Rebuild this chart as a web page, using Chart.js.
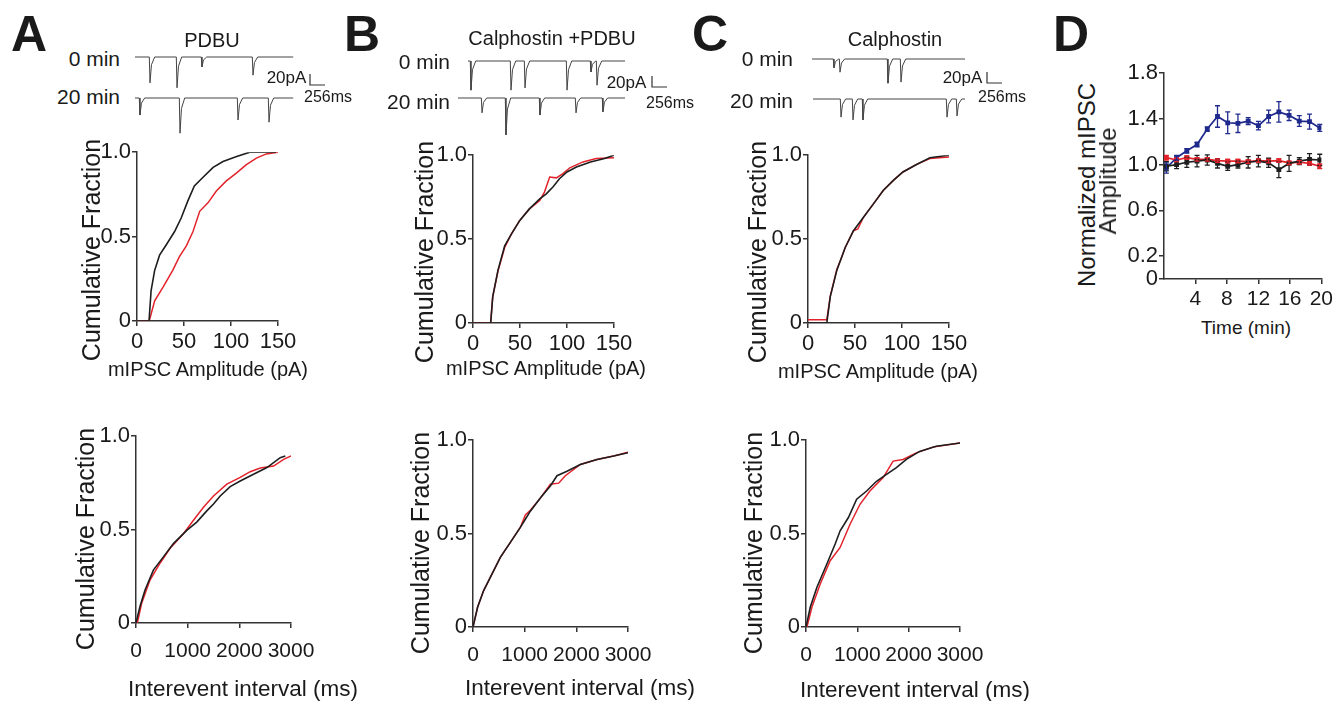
<!DOCTYPE html>
<html>
<head>
<meta charset="utf-8">
<script src="https://cdn.jsdelivr.net/npm/chart.js@4.4.1/dist/chart.umd.min.js"></script>
<style>
    body { margin: 0; background: #fff; }
    #fig { position: relative; width: 1338px; height: 701px; overflow: hidden; font-family: "Liberation Sans", Arial, sans-serif; color: #1a1a1a; }
    #fig canvas { position: absolute; }
    .lbl { position: absolute; white-space: nowrap; line-height: 1; }
</style>
</head>
<body>
<div id="fig"></div>
<script>
// ---- traces (spike times in ms, amplitudes in pA) ----
const spikeTimesA0 = [256, 717, 1143, 2014];
const spikeAmpsA0 = [47, 56, 18, 33];
const spikeTimesA20 = [85, 768, 1758, 2287];
const spikeAmpsA20 = [31, 64, 40, 44];
const spikeTimesB0 = [51, 734, 973, 1690, 2099, 2202];
const spikeAmpsB0 = [53, 53, 49, 53, 20, 44];
const spikeTimesB20 = [410, 819, 1399, 2014, 2474];
const spikeAmpsB20 = [27, 67, 31, 27, 25];
const spikeTimesC0 = [375, 478, 1297, 1519];
const spikeAmpsC0 = [16, 24, 44, 42];
const spikeTimesC20 = [478, 683, 853, 2287, 2458];
const spikeAmpsC20 = [33, 38, 38, 33, 31];
const traceDur = { A0: 2700, A20: 2700, B0: 2680, B20: 2850, C0: 2611, C20: 2594 };

// ---- cumulative amplitude (pA -> fraction) ----
const ampA_black_x = [0, 12.8, 15, 18.8, 24, 31, 40, 47, 54, 61, 70, 81, 91.5, 106, 120, 148];
const ampA_black_y = [0, 0, 0.18, 0.30, 0.39, 0.45, 0.53, 0.61, 0.71, 0.80, 0.85, 0.91, 0.945, 0.975, 1.0, 1.0];
const ampA_red_x = [0, 13, 18.8, 27.7, 38, 45, 52.5, 59.6, 66.7, 75.5, 84.4, 95, 105.7, 116, 127, 137.6, 150];
const ampA_red_y = [0, 0, 0.12, 0.2, 0.3, 0.38, 0.445, 0.53, 0.65, 0.70, 0.77, 0.83, 0.876, 0.925, 0.965, 0.99, 1.0];
const ampB_black_x = [0, 18.8, 21, 26.6, 33.7, 40.8, 49.6, 60, 71, 78, 85, 92, 100, 110, 125, 140, 150];
const ampB_black_y = [0, 0, 0.157, 0.315, 0.46, 0.53, 0.61, 0.68, 0.74, 0.77, 0.81, 0.86, 0.90, 0.93, 0.96, 0.98, 1.0];
const ampB_red_x = [0, 18.8, 21, 26.6, 33.7, 40.8, 49.6, 60, 71, 76, 81.6, 88.7, 95.7, 103, 117, 131, 150];
const ampB_red_y = [0, 0, 0.157, 0.31, 0.45, 0.53, 0.61, 0.68, 0.73, 0.78, 0.87, 0.865, 0.89, 0.925, 0.96, 0.98, 0.985];
const ampC_black_x = [0, 20, 23.7, 30.7, 39.6, 48.4, 59, 69.6, 80, 90.8, 101, 115.5, 129.7, 150];
const ampC_black_y = [0, 0, 0.157, 0.315, 0.45, 0.55, 0.63, 0.71, 0.79, 0.85, 0.90, 0.945, 0.985, 1.0];
const ampC_red_x = [0, 20, 23.7, 30.7, 35, 39.6, 48.4, 53, 59, 69.6, 80, 90.8, 101, 115.5, 129.7, 150];
const ampC_red_y = [0.02, 0.02, 0.16, 0.32, 0.38, 0.45, 0.55, 0.56, 0.63, 0.71, 0.79, 0.85, 0.9, 0.945, 0.98, 0.99];

// ---- cumulative interevent interval (ms -> fraction) ----
const intA_black_x = [0, 77, 175, 336, 530, 724, 982, 1176, 1370, 1500, 1630, 1823, 2017, 2275, 2534, 2792, 2890];
const intA_black_y = [0, 0.088, 0.177, 0.283, 0.354, 0.425, 0.496, 0.54, 0.60, 0.637, 0.68, 0.73, 0.76, 0.796, 0.832, 0.885, 0.894];
const intA_red_x = [26, 110, 271, 465, 660, 918, 1112, 1306, 1500, 1758, 2017, 2211, 2405, 2663, 2857, 3000];
const intA_red_y = [0, 0.106, 0.23, 0.32, 0.40, 0.478, 0.55, 0.62, 0.68, 0.743, 0.78, 0.81, 0.83, 0.84, 0.876, 0.894];
const intB_black_x = [0, 90, 206, 335, 529, 723, 916, 1013, 1110, 1303, 1497, 1626, 1819, 2077, 2400, 2723, 3000];
const intB_black_y = [0, 0.107, 0.195, 0.266, 0.373, 0.453, 0.533, 0.577, 0.62, 0.69, 0.755, 0.81, 0.834, 0.87, 0.897, 0.915, 0.933];
const intB_red_x = [0, 90, 206, 335, 529, 723, 916, 1013, 1110, 1303, 1497, 1658, 1787, 2077, 2400, 2723, 3000];
const intB_red_y = [0, 0.107, 0.195, 0.266, 0.373, 0.453, 0.533, 0.6, 0.625, 0.69, 0.764, 0.77, 0.81, 0.87, 0.897, 0.915, 0.935];
const intC_black_x = [0, 84, 213, 406, 568, 665, 826, 987, 1181, 1374, 1568, 1761, 1955, 2213, 2535, 3000];
const intC_black_y = [0, 0.107, 0.213, 0.337, 0.444, 0.515, 0.586, 0.684, 0.728, 0.78, 0.817, 0.853, 0.897, 0.94, 0.968, 0.985];
const intC_red_x = [19, 116, 277, 471, 665, 858, 1052, 1245, 1503, 1697, 1890, 2148, 2471, 3000];
const intC_red_y = [0, 0.107, 0.23, 0.355, 0.426, 0.55, 0.657, 0.728, 0.80, 0.888, 0.897, 0.932, 0.963, 0.985];

// ---- panel D: normalized amplitude over time ----
const timesD = [0.3, 1.6, 2.9, 4.2, 5.5, 6.8, 8.1, 9.4, 10.7, 12.0, 13.3, 14.6, 15.9, 17.2, 18.5, 19.8];
const pdbu = [0.97, 1.06, 1.12, 1.175, 1.31, 1.42, 1.365, 1.36, 1.38, 1.34, 1.42, 1.46, 1.43, 1.38, 1.375, 1.32];
const pdbuErr = [0.045, 0.02, 0.02, 0.02, 0.02, 0.094, 0.095, 0.08, 0.03, 0.037, 0.055, 0.09, 0.045, 0.047, 0.066, 0.03];
const calphostin = [1.06, 1.04, 1.06, 1.045, 1.045, 1.035, 1.03, 1.03, 1.025, 1.035, 1.03, 1.035, 1.015, 1.02, 1.01, 0.985];
const calphostinErr = [0.02, 0.015, 0.015, 0.015, 0.015, 0.015, 0.015, 0.015, 0.015, 0.015, 0.015, 0.015, 0.015, 0.015, 0.015, 0.02];
const calphPdbu = [0.985, 1.0, 1.02, 1.03, 1.04, 1.01, 0.985, 1.0, 1.02, 1.03, 1.015, 0.955, 1.01, 1.03, 1.045, 1.04];
const calphPdbuErr = [0.04, 0.035, 0.045, 0.05, 0.045, 0.04, 0.035, 0.03, 0.05, 0.05, 0.04, 0.07, 0.07, 0.03, 0.05, 0.05];
const yTicksD = [0, 0.2, 0.6, 1.0, 1.4, 1.8];
const xTicksD = [4, 8, 12, 16, 20];

const BLACK = "#1e1e1e";
const RED = "#e3232b";
const BLUE = "#1f2a8c";
const AXIS = "#333";

Chart.defaults.font.family = '"Liberation Sans", Arial, sans-serif';
Chart.defaults.color = "#1a1a1a";

const fig = document.getElementById("fig");

function addCanvas(box) {
    const c = document.createElement("canvas");
    c.width = box[2];
    c.height = box[3];
    c.style.left = box[0] + "px";
    c.style.top = box[1] + "px";
    fig.appendChild(c);
    return c;
}

function pts(xs, ys) {
    return xs.map((x, i) => ({ x: x, y: ys[i] }));
}

// ---- traces ----
const PX_PER_MS = 15 / 256;
const PX_PER_PA = 11 / 20;

function buildTrace(times, amps, dur, dt, dy) {
    const p = [{ x: dt, y: dy }];
    times.forEach((t, i) => {
        p.push({ x: dt + t - 12, y: dy });
        p.push({ x: dt + t, y: dy - amps[i] });
        p.push({ x: dt + t + 25, y: dy - amps[i] * 0.3 });
        p.push({ x: dt + t + 80, y: dy });
    });
    p.push({ x: dt + dur, y: dy });
    return p;
}

function traceChart(cfg, t0, a0, d0, t20, a20, d20) {
    const [L, T, W, H] = cfg.box;
    const dt20 = (cfg.x20 - cfg.x0) / PX_PER_MS;
    const dy20 = -(cfg.b20 - cfg.b0) / PX_PER_PA;
    const barX = (cfg.bar[0] - cfg.x0) / PX_PER_MS;
    const barY = (cfg.b0 - cfg.bar[1]) / PX_PER_PA;
    new Chart(addCanvas(cfg.box), {
        type: "line",
        data: {
            datasets: [
                { data: buildTrace(t0, a0, d0, 0, 0) },
                { data: buildTrace(t20, a20, d20, dt20, dy20) },
                { data: [{ x: barX, y: barY }, { x: barX, y: barY - 20 }, { x: barX + 256, y: barY - 20 }], borderColor: "#333", borderWidth: 1.2 },
            ],
        },
        options: {
            responsive: false, animation: false, devicePixelRatio: 1,
            layout: { padding: 0 },
            elements: { point: { radius: 0 }, line: { tension: 0, borderColor: "#444", borderWidth: 1 } },
            plugins: { legend: { display: false }, tooltip: { enabled: false } },
            scales: {
                x: { type: "linear", display: false, min: (L - cfg.x0) / PX_PER_MS, max: (L + W - cfg.x0) / PX_PER_MS },
                y: { type: "linear", display: false, min: (cfg.b0 - T - H) / PX_PER_PA, max: (cfg.b0 - T) / PX_PER_PA },
            },
        },
    });
}

traceChart({ box: [125, 45, 210, 100], x0: 135, b0: 57, x20: 135, b20: 98, bar: [310, 74] },
    spikeTimesA0, spikeAmpsA0, traceDur.A0, spikeTimesA20, spikeAmpsA20, traceDur.A20);
traceChart({ box: [450, 45, 225, 100], x0: 468, b0: 61, x20: 458, b20: 98, bar: [652, 76] },
    spikeTimesB0, spikeAmpsB0, traceDur.B0, spikeTimesB20, spikeAmpsB20, traceDur.B20);
traceChart({ box: [805, 45, 205, 100], x0: 812, b0: 59, x20: 813, b20: 99, bar: [987, 72] },
    spikeTimesC0, spikeAmpsC0, traceDur.C0, spikeTimesC20, spikeAmpsC20, traceDur.C20);

// ---- cumulative plots ----
function axisStyle(fontSize) {
    return {
        grid: { drawOnChartArea: false, tickLength: 5, color: AXIS, lineWidth: 1.5 },
        border: { color: AXIS, width: 1.5 },
        ticks: { autoSkip: false, maxRotation: 0, padding: 1, font: { size: fontSize }, color: "#1a1a1a" },
    };
}

function cumulative(box, area, xMax, xStep, bx, by, rx, ry, xFont, xPad) {
    const padTop = area[1] - box[1];
    const padRight = box[0] + box[2] - area[2];
    const yW = area[0] - box[0];
    const xH = box[1] + box[3] - area[3];
    const xs = axisStyle(xFont);
    const ys = axisStyle(22);
    new Chart(addCanvas(box), {
        type: "line",
        data: {
            datasets: [
                { data: pts(bx, by), borderColor: BLACK, borderWidth: 1.6 },
                { data: pts(rx, ry), borderColor: RED, borderWidth: 1.5 },
            ],
        },
        options: {
            responsive: false, animation: false, devicePixelRatio: 1,
            layout: { padding: { top: padTop, right: padRight, left: 0, bottom: 0 } },
            elements: { point: { radius: 0 }, line: { tension: 0 } },
            plugins: { legend: { display: false }, tooltip: { enabled: false } },
            scales: {
                x: Object.assign(xs, {
                    type: "linear", min: 0, max: xMax,
                    afterFit: (s) => { s.height = xH; },
                    ticks: Object.assign(xs.ticks, { stepSize: xStep, padding: xPad, callback: (v) => String(v) }),
                }),
                y: Object.assign(ys, {
                    type: "linear", min: 0, max: 1,
                    afterFit: (s) => { s.width = yW; },
                    ticks: Object.assign(ys.ticks, {
                        stepSize: 0.5,
                        callback: (v) => (v === 0 ? "0" : v.toFixed(1)),
                    }),
                }),
            },
        },
    });
}

cumulative([60, 138, 255, 245], [137, 151, 278, 321], 150, 50, ampA_black_x, ampA_black_y, ampA_red_x, ampA_red_y, 22, 3);
cumulative([396, 141, 255, 245], [473, 154, 614, 323], 150, 50, ampB_black_x, ampB_black_y, ampB_red_x, ampB_red_y, 22, 3);
cumulative([731, 141, 255, 245], [808, 154, 949, 323], 150, 50, ampC_black_x, ampC_black_y, ampC_red_x, ampC_red_y, 22, 3);
cumulative([60, 422, 270, 265], [136, 435, 291, 623], 3000, 1000, intA_black_x, intA_black_y, intA_red_x, intA_red_y, 21, 11);
cumulative([397, 426, 270, 265], [473, 439, 628, 627], 3000, 1000, intB_black_x, intB_black_y, intB_red_x, intB_red_y, 21, 11);
cumulative([730, 426, 270, 265], [806, 439, 960, 627], 3000, 1000, intC_black_x, intC_black_y, intC_red_x, intC_red_y, 21, 11);

// ---- panel D ----
const errorBars = {
    id: "errorBars",
    afterDatasetsDraw(chart) {
        const ctx = chart.ctx;
        const y = chart.scales.y;
        chart.data.datasets.forEach((ds, i) => {
            if (!ds.errors) return;
            const meta = chart.getDatasetMeta(i);
            ctx.save();
            ctx.strokeStyle = ds.borderColor;
            ctx.lineWidth = 1.3;
            meta.data.forEach((pt, j) => {
                const v = ds.data[j].y;
                const top = y.getPixelForValue(v + ds.errors[j]);
                const bot = y.getPixelForValue(v - ds.errors[j]);
                ctx.beginPath();
                ctx.moveTo(pt.x, top); ctx.lineTo(pt.x, bot);
                ctx.moveTo(pt.x - 2.5, top); ctx.lineTo(pt.x + 2.5, top);
                ctx.moveTo(pt.x - 2.5, bot); ctx.lineTo(pt.x + 2.5, bot);
                ctx.stroke();
            });
            ctx.restore();
        });
    },
};

(function () {
    const box = [1120, 55, 216, 260];
    const area = [1164, 73, 1323, 279];
    const xs = axisStyle(21);
    const ys = axisStyle(22);
    const series = (vals, errs, color) => ({
        data: pts(timesD, vals), errors: errs,
        borderColor: color, backgroundColor: color, borderWidth: 1.7,
        pointStyle: "rect", pointRadius: 2.2,
    });
    new Chart(addCanvas(box), {
        type: "line",
        data: {
            datasets: [
                series(calphPdbu, calphPdbuErr, BLACK),
                series(calphostin, calphostinErr, RED),
                series(pdbu, pdbuErr, BLUE),
            ],
        },
        options: {
            responsive: false, animation: false, devicePixelRatio: 1,
            layout: { padding: { top: area[1] - box[1], right: box[0] + box[2] - area[2], left: 0, bottom: 0 } },
            elements: { line: { tension: 0 } },
            plugins: { legend: { display: false }, tooltip: { enabled: false } },
            scales: {
                x: Object.assign(xs, {
                    type: "linear", min: 0, max: 20,
                    afterFit: (s) => { s.height = box[1] + box[3] - area[3]; },
                    afterBuildTicks: (s) => { s.ticks = xTicksD.map((v) => ({ value: v })); },
                    ticks: Object.assign(xs.ticks, { padding: 3 }),
                }),
                y: Object.assign(ys, {
                    type: "linear", min: 0, max: 1.8,
                    afterFit: (s) => { s.width = area[0] - box[0]; },
                    afterBuildTicks: (s) => { s.ticks = yTicksD.map((v) => ({ value: v })); },
                    ticks: Object.assign(ys.ticks, { callback: (v) => (v === 0 ? "0" : v.toFixed(1)) }),
                }),
            },
        },
        plugins: [errorBars],
    });
})();

// ---- text ----
// [text, x, y, size, weight, anchor(c|r|l), rotated]
const texts = [
    ["A", 29, 34, 50, "bold", "c"],
    ["B", 362, 34, 50, "bold", "c"],
    ["C", 710, 34, 50, "bold", "c"],
    ["D", 1071, 34, 50, "bold", "c"],
    ["PDBU", 212, 40, 20, "normal", "c"],
    ["Calphostin +PDBU", 552, 38, 20, "normal", "c"],
    ["Calphostin", 895, 39, 20, "normal", "c"],
    ["0 min", 120, 57.5, 21, "normal", "r"],
    ["20 min", 120, 95.5, 21, "normal", "r"],
    ["0 min", 450, 60.5, 21, "normal", "r"],
    ["20 min", 450, 100.5, 21, "normal", "r"],
    ["0 min", 793, 57.5, 21, "normal", "r"],
    ["20 min", 793, 99.5, 21, "normal", "r"],
    ["20pA", 286.5, 76.5, 17, "normal", "c"],
    ["20pA", 626.5, 81.5, 17, "normal", "c"],
    ["20pA", 962.5, 76.5, 17, "normal", "c"],
    ["256ms", 304, 97, 16, "normal", "l"],
    ["256ms", 646, 103, 16, "normal", "l"],
    ["256ms", 978, 97, 16, "normal", "l"],
    ["Cumulative Fraction", 91, 250, 25, "normal", "c", true],
    ["Cumulative Fraction", 424, 252, 25, "normal", "c", true],
    ["Cumulative Fraction", 757, 252, 25, "normal", "c", true],
    ["Cumulative Fraction", 85, 539, 25, "normal", "c", true],
    ["Cumulative Fraction", 420, 543, 25, "normal", "c", true],
    ["Cumulative Fraction", 753, 543, 25, "normal", "c", true],
    ["mIPSC Amplitude (pA)", 208, 369, 20, "normal", "c"],
    ["mIPSC Amplitude (pA)", 546, 368, 20, "normal", "c"],
    ["mIPSC Amplitude (pA)", 878, 371, 20, "normal", "c"],
    ["Interevent interval (ms)", 243, 689, 22.5, "normal", "c"],
    ["Interevent interval (ms)", 580, 688, 22.5, "normal", "c"],
    ["Interevent interval (ms)", 915, 690, 22.5, "normal", "c"],
    ["Normalized mIPSC", 1087, 185, 24, "normal", "c", true],
    ["Amplitude", 1108, 181, 24, "normal", "c", true],
    ["Time (min)", 1246, 327, 19, "normal", "c"],
];

texts.forEach(([txt, x, y, size, weight, anchor, rot]) => {
    const d = document.createElement("div");
    d.className = "lbl";
    d.textContent = txt;
    d.style.left = x + "px";
    d.style.top = y + "px";
    d.style.fontSize = size + "px";
    d.style.fontWeight = weight;
    const tx = anchor === "r" ? "-100%" : anchor === "l" ? "0" : "-50%";
    d.style.transform = "translate(" + tx + ",-50%)" + (rot ? " rotate(-90deg)" : "");
    fig.appendChild(d);
});
</script>
</body>
</html>
